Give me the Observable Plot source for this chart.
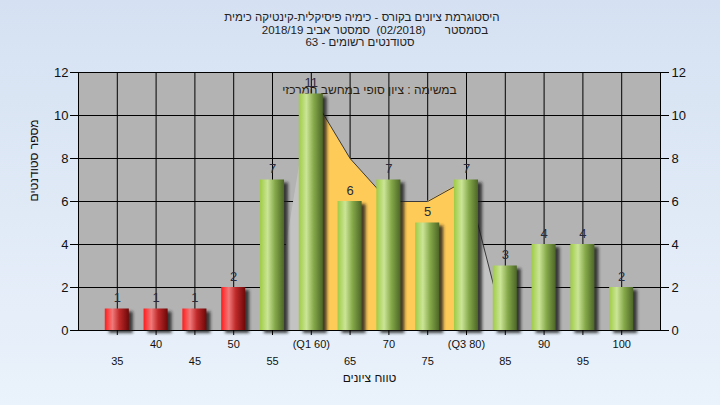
<!DOCTYPE html>
<html><head><meta charset="utf-8">
<script src="https://cdn.jsdelivr.net/npm/d3@7"></script>
<script src="https://cdn.jsdelivr.net/npm/@observablehq/plot@0.6"></script>
<style>
html,body{margin:0;padding:0;}
body{width:720px;height:405px;overflow:hidden;background:linear-gradient(180deg,#d5e1f2 0%,#eaf2fb 100%);font-family:"Liberation Sans",Arial,sans-serif;}
#title{height:56px;box-sizing:border-box;padding-top:11px;text-align:center;font-size:11.5px;line-height:12.5px;color:#222;}
#title div{white-space:pre;}
#chart svg{display:block;}
</style></head><body>
<div id="title" dir="rtl">
<div style="padding-left:4px">היסטוגרמת ציונים בקורס - כימיה פיסיקלית-קינטיקה כימית</div>
<div style="padding-left:30px">בסמסטר      (02/2018)  סמסטר אביב 2018/19</div>
<div>סטודנטים רשומים - 63</div>
</div>
<div id="chart"></div>
<script>
// ---- data ----
const scores = [35, 40, 45, 50, 55, 60, 65, 70, 75, 80, 85, 90, 95, 100];
const counts = [1, 1, 1, 2, 7, 11, 6, 7, 5, 7, 3, 4, 4, 2];
const tickLabels = ["35", "40", "45", "50", "55", "(Q1 60)", "65", "70", "75", "(Q3 80)", "85", "90", "95", "100"];
const yTicks = [0, 2, 4, 6, 8, 10, 12];
const passMark = 55;
const q1 = 60, q3 = 80;
const curveX = [55, 60, 65, 70, 75, 80, 85];
const curveY = [0, 11, 8, 6, 6, 7, 0];
const yLabel = "מספר סטודנטים";
const xLabel = "טווח ציונים";
const note = "במשימה : ציון סופי במחשב המרכזי";

const bars = scores.map((s, i) => ({score: s, count: counts[i], label: tickLabels[i], i}));
const curve = curveX.map((x, i) => ({x, y: curveY[i]}));
const labelOf = new Map(bars.map(d => [d.score, d.label]));
const row1 = scores.filter((s, i) => i % 2 === 1);
const row2 = scores.filter((s, i) => i % 2 === 0);
const halfW = 1.55;

const plot = Plot.plot({
  width: 720,
  height: 349,
  marginTop: 16,
  marginBottom: 75,
  marginLeft: 78,
  marginRight: 60,
  style: {background: "transparent", fontFamily: "'Liberation Sans', Arial, sans-serif", color: "#111", overflow: "visible"},
  x: {domain: [30, 105]},
  y: {domain: [0, 12]},
  marks: [
    Plot.frame({fill: "#b3b3b3", stroke: null}),
    Plot.ruleY(yTicks, {stroke: "#000", strokeWidth: 1}),
    Plot.ruleX(scores, {stroke: "#000", strokeWidth: 1}),
    Plot.frame({stroke: "#000", fill: "none"}),
    Plot.areaY(curve, {x: "x", y: "y", fill: "#c3c3c3"}),
    Plot.areaY(curve, {x: "x", y: "y", fill: "#ffcb58", filter: d => d.x >= q1 && d.x <= q3}),
    Plot.lineY(curve, {x: "x", y: "y", stroke: "#3a3a3a", strokeWidth: 1, filter: d => d.x >= q1}),
    Plot.text([note], {frameAnchor: "top", dy: 13, fontSize: 12, fill: "#2b1d0e"}),
    // bar shadows
    Plot.rectY(bars, {x1: d => d.score - halfW, x2: d => d.score + halfW, y: "count", fill: "#1c1c1c", fillOpacity: 0.8, dx: 4, dy: 3}),
    Plot.rectY(bars, {x1: d => d.score - halfW, x2: d => d.score + halfW, y: "count", fill: "url(#gRed)", filter: d => d.score < passMark}),
    Plot.rectY(bars, {x1: d => d.score - halfW, x2: d => d.score + halfW, y: "count", fill: "url(#gGreen)", filter: d => d.score >= passMark}),
    Plot.text(bars, {x: "score", y: "count", text: d => String(d.count), dy: -11, fontSize: 13, fill: "#2a2a3a"}),
    Plot.axisY({anchor: "left", ticks: yTicks, tickSize: 8, tickPadding: 2, fontSize: 13, label: null, stroke: "#000"}),
    Plot.axisY({anchor: "right", ticks: yTicks, tickSize: 8, tickPadding: 3, fontSize: 13, label: null, stroke: "#000"}),
    Plot.axisX({anchor: "bottom", ticks: row1, tickSize: 5, tickPadding: 5, fontSize: 11, label: null, tickFormat: d => labelOf.get(d), stroke: "#000"}),
    Plot.axisX({anchor: "bottom", ticks: row2, tickSize: 5, tickPadding: 22, fontSize: 11, label: null, tickFormat: d => labelOf.get(d), stroke: "#000"}),
    Plot.text([yLabel], {frameAnchor: "left", rotate: -90, dx: -44, fontSize: 12, fill: "#111"}),
    Plot.text([xLabel], {frameAnchor: "bottom", dy: 51, fontSize: 12, fill: "#111"})
  ]
});

const svg = d3.select(plot);
const defs = svg.insert("defs", ":first-child");
const gr = defs.append("linearGradient").attr("id", "gRed").attr("x1", 0).attr("x2", 1).attr("y1", 0).attr("y2", 0);
[[0, "#ff1c1c"], [0.32, "#f07a7a"], [0.6, "#c02a2a"], [1, "#6e0808"]].forEach(([o, c]) => gr.append("stop").attr("offset", o).attr("stop-color", c));
const gg = defs.append("linearGradient").attr("id", "gGreen").attr("x1", 0).attr("x2", 1).attr("y1", 0).attr("y2", 0);
[[0, "#9fcb45"], [0.32, "#cbe597"], [0.62, "#86a94a"], [1, "#4c6626"]].forEach(([o, c]) => gg.append("stop").attr("offset", o).attr("stop-color", c));
const f = defs.append("filter").attr("id", "blur").attr("x", "-50%").attr("y", "-50%").attr("width", "200%").attr("height", "200%");
f.append("feGaussianBlur").attr("stdDeviation", 1.8);
// blur the shadow rects (their group carries the shadow fill colour)
svg.selectAll("g").filter(function () { return this.getAttribute("fill") === "#1c1c1c"; }).attr("filter", "url(#blur)");
svg.selectAll("rect").filter(function () { return this.getAttribute("fill") === "#1c1c1c"; }).attr("filter", "url(#blur)");

document.getElementById("chart").appendChild(plot);
</script>
</body></html>
